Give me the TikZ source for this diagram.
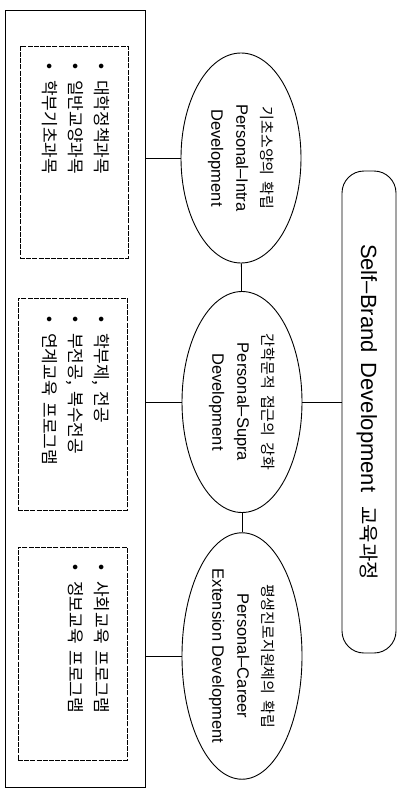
\documentclass[tikz,border=0pt]{standalone}
\usepackage{fontspec}
\setmainfont{Liberation Sans}
\newfontfamily\kr{Noto Sans CJK KR}
\newfontfamily\titlefont[WordSpace=1.6]{Liberation Sans}
\usetikzlibrary{shapes.geometric}
\newcommand{\bul}{\makebox[17pt][l]{\rmfamily\textbullet}}
\newcommand{\ks}{\hspace{0.4em}}
\begin{document}
\begin{tikzpicture}[x=1pt,y=-1pt,
  ell/.style={draw, ellipse, line width=0.9pt, rotate=-90, minimum width=222pt,
    minimum height=120pt, inner sep=0pt, align=center,
    font=\fontsize{16.5}{25}\selectfont},
  dbox/.style={draw, dash pattern=on 5pt off 1.2pt, line width=0.8pt, rectangle, inner sep=0pt},
  items/.style={rotate=-90, anchor=north west, inner sep=0pt, align=left,
    font=\kr\fontsize{17}{26}\selectfont},
  conn/.style={line width=0.9pt}]
\useasboundingbox (0,0) rectangle (403,798);
% outer frame
\node[draw, line width=0.9pt, minimum width=140pt, minimum height=777pt, inner sep=0pt] (outer) at (75,398.5) {};
% inner dashed boxes
\node[dbox, minimum width=108pt, minimum height=212pt] (b1) at (74,152) {};
\node[dbox, minimum width=109pt, minimum height=212pt] (b2) at (72.5,404) {};
\node[dbox, minimum width=109pt, minimum height=213pt] (b3) at (72.5,653.5) {};
% item lists
\node[items] (t1) at (110,63) {\bul 대학정책과목\\\bul 일반교양과목\\\bul 학부기초과목};
\node[items] (t2) at (110,316) {\bul 학부제,\ks 전공\\\bul 부전공,\ks 복수전공\\\bul 연계교육\ks 프로그램};
\node[items] (t3) at (110,564) {\bul 사회교육\ks 프로그램\\\bul 정보교육\ks 프로그램};
% ellipses
\node[ell, minimum width=210pt] (e1) at (241,158) {{\kr\fontsize{15}{25}\selectfont 기초소양의\ks 확립}\\Personal–Intra\\Development};
\node[ell, minimum width=221pt] (e2) at (242,402) {{\kr\fontsize{15}{25}\selectfont 간학문적\ks 접근의\ks 강화}\\Personal–Supra\\Development};
\node[ell, minimum width=222pt] (e3) at (242,656) {{\kr\fontsize{15}{25}\selectfont 평생진로지원체의\ks 확립}\\Personal–Career\\Extension Development};
% title box
\node[draw, line width=0.9pt, rounded corners=22pt, rotate=-90, minimum width=482pt,
  minimum height=54pt, inner sep=0pt] (title) at (369,412) {};
\node[rotate=-90, anchor=base, inner sep=0pt] (ttext) at (361,412)
  {{\titlefont\fontsize{22}{24}\selectfont Self–Brand Development}\hspace{14pt}{\kr\fontsize{20}{24}\selectfont 교육과정}};
% connectors
\draw[conn] (e1) -- (e2);
\draw[conn] (e2) -- (e3);
\draw[conn] (e1) -- (e1 -| outer.east);
\draw[conn] (e2) -- (e2 -| outer.east);
\draw[conn] (e3) -- (e3 -| outer.east);
\draw[conn] (e2) -- (e2 -| title.south);
\end{tikzpicture}
\end{document}
